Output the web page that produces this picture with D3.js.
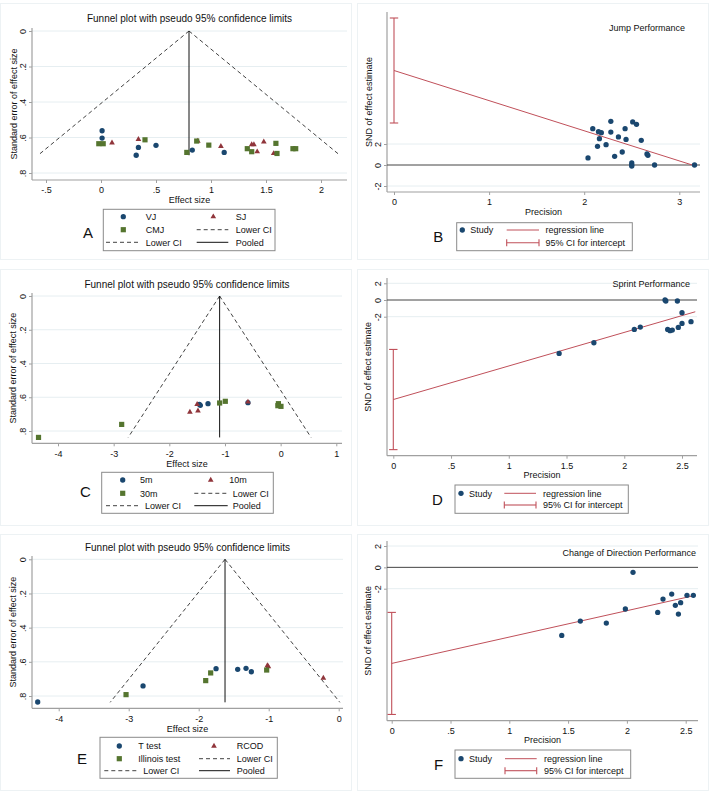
<!DOCTYPE html>
<html lang="en">
<head>
<meta charset="UTF-8">
<title>Funnel plots and Egger plots</title>
<script src="https://d3js.org/d3.v7.min.js"></script>
<style>
  body { margin: 0; background: #fff; }
  svg { display: block; font-family: "Liberation Sans", Arial, sans-serif; }
</style>
</head>
<body>
<script>
// ---------- data ----------
// A: jump performance funnel (effect size, standard error)
const jumpVJ = [[0.01, 0.562], [0.01, 0.603], [0.32, 0.700], [0.34, 0.656], [0.50, 0.644], [0.83, 0.671], [1.12, 0.684]];
const jumpSJ = [[0.10, 0.630], [0.34, 0.610], [0.88, 0.620], [1.09, 0.650], [1.37, 0.640], [1.39, 0.640], [1.42, 0.680], [1.48, 0.624], [1.57, 0.690]];
const jumpCMJ = [[-0.02, 0.635], [0.02, 0.635], [0.40, 0.613], [0.78, 0.684], [0.87, 0.620], [0.98, 0.643], [1.33, 0.663], [1.37, 0.680], [1.59, 0.633], [1.60, 0.690], [1.745, 0.663], [1.77, 0.663]];
const jumpPooled = 0.80;
const jumpMaxSE = 0.70;
const jumpTicks = [-0.5, 0, 0.5, 1, 1.5, 2];

// C: sprint performance funnel
const sprint5m = [[-1.46, 0.642], [-1.443, 0.648], [-1.305, 0.638], [-0.587, 0.632]];
const sprint10m = [[-1.63, 0.688], [-1.50, 0.642], [-1.485, 0.680], [-0.587, 0.628]];
const sprint30m = [[-4.35, 0.838], [-2.856, 0.761], [-1.096, 0.634], [-0.994, 0.624], [-0.04, 0.638], [-0.05, 0.650], [0.006, 0.654]];
const sprintPooled = -1.096;
const sprintMaxSE = 0.838;
const sprintTicks = [-4, -3, -2, -1, 0, 1];

// E: change of direction funnel
const codTtest = [[-4.30, 0.835], [-2.795, 0.741], [-1.752, 0.640], [-1.443, 0.644], [-1.324, 0.638], [-1.248, 0.658]];
const codRCOD = [[-1.019, 0.622], [-1.005, 0.628], [-0.219, 0.695]];
const codIllinois = [[-3.038, 0.792], [-1.90, 0.710], [-1.829, 0.665], [-1.029, 0.648]];
const codPooled = -1.624;
const codMaxSE = 0.837;
const codTicks = [-4, -3, -2, -1, 0];

const seTicks = [0, 0.2, 0.4, 0.6, 0.8];

// B, D, F: Egger plots (precision, SND of effect estimate)
const jumpEgger = [[2.04, 0.67], [2.09, 3.46], [2.14, 1.78], [2.15, 3.17], [2.16, 2.51], [2.18, 3.08], [2.23, 1.94], [2.28, 4.16], [2.28, 3.14], [2.32, 0.83], [2.36, 2.67], [2.40, 1.24], [2.43, 3.46], [2.44, 2.44], [2.50, 0.19], [2.50, 0.0], [2.50, -0.1], [2.51, 4.10], [2.55, 3.87], [2.60, 2.35], [2.66, 1.05], [2.67, 0.92], [2.74, 0.0], [3.16, 0.0]];
const jumpReg = [9.0, -2.87];      // intercept, slope
const jumpRegEnd = 3.16;
const jumpCI = [4.0, 14.0];
const jumpPrecTicks = [0, 1, 2, 3];

const sprintEgger = [[1.436, -6.4], [1.737, -5.12], [2.087, -3.52], [2.139, -3.24], [2.353, 0.0], [2.36, -0.12], [2.46, -0.12], [2.376, -3.52], [2.396, -3.68], [2.416, -3.6], [2.468, -3.28], [2.50, -1.52], [2.50, -2.8], [2.578, -2.6]];
const sprintReg = [-11.92, 4.02];
const sprintRegEnd = 2.615;
const sprintCI = [-17.92, -5.92];

const codEgger = [[1.446, -6.375], [1.604, -5.03], [1.825, -5.22], [1.987, -3.9], [2.052, -0.47], [2.262, -4.22], [2.307, -2.97], [2.381, -2.5], [2.412, -3.56], [2.438, -4.375], [2.457, -3.31], [2.511, -2.625], [2.565, -2.625]];
const codReg = [-9.0, 2.47];
const codRegEnd = 2.565;
const codCI = [-13.78, -4.22];

const precTicks = [0, 0.5, 1, 1.5, 2, 2.5];
const sndTicks = [-2, 0, 2];

// ---------- style ----------
const NAVY = "#1a476f", MAROON = "#90353b", GREEN = "#55752f";
const REG = "#c0505a", AXIS = "#a0a0a0", GRID = "#e6eef1", TXT = "#111";

const svg = d3.select("body").append("svg").attr("width", 709).attr("height", 795);

const fmt = d => String(+d.toFixed(2)).replace(/^(-?)0\./, "$1.");

const shapes = { circle: [d3.symbolCircle, 22], triangle: [d3.symbolTriangle, 14], square: [d3.symbolSquare, 27] };
function mark(g, shape, color, x, y) {
  g.append("path")
    .attr("d", d3.symbol().type(shapes[shape][0]).size(shapes[shape][1]))
    .attr("transform", `translate(${x},${y})`)
    .attr("fill", color);
}

// faint panel frames
[[0.5, 3.5], [0.5, 269.5], [0.5, 534.5], [357.5, 3.5], [357.5, 269.5], [357.5, 534.5]].forEach(([x, y]) => {
  svg.append("rect").attr("x", x).attr("y", y).attr("width", 351).attr("height", 256)
    .attr("fill", "none").attr("stroke", "#edf2f4");
});

function axes(g, x, y, xt, yt, p) {
  const ax = g.append("g").attr("transform", `translate(0,${p.bottom})`)
    .call(d3.axisBottom(x).tickValues(xt).tickSize(3).tickPadding(4).tickFormat(fmt));
  ax.select(".domain").remove();
  ax.selectAll("line").attr("stroke", AXIS);
  ax.selectAll("text").attr("font-size", 9).attr("fill", TXT).attr("font-family", null);

  const ay = g.append("g").attr("transform", `translate(${p.left},0)`)
    .call(d3.axisLeft(y).tickValues(yt).tickSize(3).tickFormat(fmt));
  ay.select(".domain").remove();
  ay.selectAll("line").attr("stroke", AXIS);
  ay.selectAll("text").attr("x", null).attr("dy", null).attr("text-anchor", "middle")
    .attr("transform", "translate(-6,0) rotate(-90)")
    .attr("font-size", 9).attr("fill", TXT).attr("font-family", null);

  g.append("line").attr("x1", p.left).attr("x2", p.right).attr("y1", p.bottom).attr("y2", p.bottom)
    .attr("stroke", AXIS).attr("stroke-width", 1.2);
  g.append("line").attr("x1", p.left).attr("x2", p.left).attr("y1", p.top).attr("y2", p.bottom)
    .attr("stroke", AXIS).attr("stroke-width", 1.2);
}

function text(g, s, x, y, size, anchor, rot) {
  const t = g.append("text").attr("x", x).attr("y", y).attr("font-size", size)
    .attr("fill", TXT).attr("text-anchor", anchor || "start").text(s);
  if (rot) t.attr("transform", `rotate(-90,${x},${y})`);
  return t;
}

function dashed(g, x1, x2, y1, y2, solid) {
  g.append("line").attr("x1", x1).attr("x2", x2).attr("y1", y1).attr("y2", y2)
    .attr("stroke", "#111").attr("stroke-width", solid ? 1 : 0.8)
    .attr("stroke-dasharray", solid ? null : "4,3");
}

// ---------- funnel panels ----------
function funnel(c) {
  const g = svg.append("g");
  const p = c.plot;
  const x = d3.scaleLinear().domain(c.xd).range(c.xr);
  const y = d3.scaleLinear().domain([0, 0.8]).range(c.yr);

  g.selectAll(".grid").data(seTicks).join("line")
    .attr("x1", p.left).attr("x2", p.right)
    .attr("y1", d => y(d)).attr("y2", d => y(d))
    .attr("stroke", GRID);
  axes(g, x, y, c.ticks, seTicks, p);

  text(g, "Funnel plot with pseudo 95% confidence limits", (p.left + p.right) / 2, c.titleY, 10, "middle");
  text(g, "Effect size", (p.left + p.right) / 2, c.xTitleY, 9, "middle");
  text(g, "Standard error of effect size", 16.5, (p.top + p.bottom) / 2, 9, "middle", true);

  // pseudo 95% limits and pooled estimate
  dashed(g, x(c.pooled), x(c.pooled - 1.96 * c.maxSE), y(0), y(c.maxSE));
  dashed(g, x(c.pooled), x(c.pooled + 1.96 * c.maxSE), y(0), y(c.maxSE));
  dashed(g, x(c.pooled), x(c.pooled), y(0), y(c.maxSE), true);

  c.series.forEach(s => s.data.forEach(d => mark(g, s.shape, s.color, x(d[0]), y(d[1]))));

  // legend
  const L = c.legend;
  g.append("rect").attr("x", L.x).attr("y", L.y).attr("width", L.w).attr("height", L.h)
    .attr("fill", "#fff").attr("stroke", "#8a8a8a");
  const s = c.series;
  mark(g, s[0].shape, s[0].color, L.s1, L.r[0]); text(g, s[0].name, L.t1, L.r[0] + 3.2, 9);
  mark(g, s[1].shape, s[1].color, L.s2, L.r[0]); text(g, s[1].name, L.t2, L.r[0] + 3.2, 9);
  mark(g, s[2].shape, s[2].color, L.s1, L.r[1]); text(g, s[2].name, L.t1, L.r[1] + 3.2, 9);
  dashed(g, L.l2[0], L.l2[1], L.r[1], L.r[1]); text(g, "Lower CI", L.t2b, L.r[1] + 3.2, 9);
  dashed(g, L.l1[0], L.l1[1], L.r[2], L.r[2]); text(g, "Lower CI", L.t1b, L.r[2] + 3.2, 9);
  dashed(g, L.l2[0], L.l2[1], L.r[2], L.r[2], true); text(g, "Pooled", L.t2b, L.r[2] + 3.2, 9);

  text(g, c.letter, c.letterPos[0], c.letterPos[1], 15, "middle");
}

funnel({
  xd: [-0.5, 2], xr: [46, 321], yr: [31, 173],
  plot: { left: 32, right: 347, top: 28, bottom: 180 },
  ticks: jumpTicks, pooled: jumpPooled, maxSE: jumpMaxSE,
  titleY: 21.5, xTitleY: 203,
  series: [
    { name: "VJ", data: jumpVJ, shape: "circle", color: NAVY },
    { name: "SJ", data: jumpSJ, shape: "triangle", color: MAROON },
    { name: "CMJ", data: jumpCMJ, shape: "square", color: GREEN }
  ],
  legend: { x: 103.3, y: 209.3, w: 171.7, h: 41.4, r: [216.7, 229.7, 242.3],
    s1: 123.3, t1: 145.7, s2: 213.3, t2: 235.7, t1b: 145.7, t2b: 235.7,
    l1: [106, 139.3], l2: [196.7, 228.3] },
  letter: "A", letterPos: [88, 237.5]
});

funnel({
  xd: [-4, 1], xr: [58, 336.3], yr: [296, 431],
  plot: { left: 32, right: 342, top: 293, bottom: 443.3 },
  ticks: sprintTicks, pooled: sprintPooled, maxSE: sprintMaxSE,
  titleY: 287.5, xTitleY: 467,
  series: [
    { name: "5m", data: sprint5m, shape: "circle", color: NAVY },
    { name: "10m", data: sprint10m, shape: "triangle", color: MAROON },
    { name: "30m", data: sprint30m, shape: "square", color: GREEN }
  ],
  legend: { x: 101.7, y: 472.3, w: 171.6, h: 41, r: [480, 493.3, 505.7],
    s1: 122.7, t1: 140, s2: 210.7, t2: 229.3, t1b: 145, t2b: 232.7,
    l1: [106, 140], l2: [194.3, 227.7] },
  letter: "C", letterPos: [85.5, 497.3]
});

funnel({
  xd: [-4, 0], xr: [58.7, 338.7], yr: [559.3, 696],
  plot: { left: 32, right: 343, top: 556, bottom: 708.3 },
  ticks: codTicks, pooled: codPooled, maxSE: codMaxSE,
  titleY: 550.5, xTitleY: 732,
  series: [
    { name: "T test", data: codTtest, shape: "circle", color: NAVY },
    { name: "RCOD", data: codRCOD, shape: "triangle", color: MAROON },
    { name: "Illinois test", data: codIllinois, shape: "square", color: GREEN }
  ],
  legend: { x: 100, y: 737.3, w: 177.3, h: 41, r: [746, 758.7, 770.7],
    s1: 119.3, t1: 138.3, s2: 214, t2: 236.7, t1b: 143.3, t2b: 236.7,
    l1: [104.3, 136.7], l2: [199, 230] },
  letter: "E", letterPos: [82, 764.3]
});

// ---------- Egger panels ----------
function egger(c) {
  const g = svg.append("g");
  const p = c.plot;
  const x = d3.scaleLinear().domain(c.xd).range(c.xr);
  const y = d3.scaleLinear().domain([-2, 2]).range(c.yr);

  g.selectAll(".grid").data([-2, 2]).join("line")
    .attr("x1", p.left).attr("x2", p.right)
    .attr("y1", d => y(d)).attr("y2", d => y(d))
    .attr("stroke", GRID);
  axes(g, x, y, c.ticks, sndTicks, p);
  g.append("line").attr("x1", p.left).attr("x2", p.right).attr("y1", y(0)).attr("y2", y(0))
    .attr("stroke", "#444").attr("stroke-width", 1);

  text(g, "Precision", (p.left + p.right) / 2, c.xTitleY, 9, "middle");
  text(g, "SND of effect estimate", 371.5, (p.top + p.bottom) / 2, 9, "middle", true);
  text(g, c.label, c.labelPos[0], c.labelPos[1], 9, "end");

  // 95% CI for intercept
  const ci = g.append("g").attr("stroke", REG).attr("stroke-width", 1.1);
  ci.append("line").attr("x1", x(0)).attr("x2", x(0)).attr("y1", y(c.ci[0])).attr("y2", y(c.ci[1]));
  c.ci.forEach(v => ci.append("line").attr("x1", x(0) - 4.2).attr("x2", x(0) + 4.2).attr("y1", y(v)).attr("y2", y(v)));

  // regression line
  const line = d3.line().x(d => x(d)).y(d => y(c.reg[0] + c.reg[1] * d));
  g.append("path").attr("d", line([0, c.regEnd])).attr("fill", "none").attr("stroke", REG).attr("stroke-width", 1);

  c.data.forEach(d => mark(g, "circle", NAVY, x(d[0]), y(d[1])));

  const L = c.legend;
  g.append("rect").attr("x", L.x).attr("y", L.y).attr("width", L.w).attr("height", L.h)
    .attr("fill", "#fff").attr("stroke", "#8a8a8a");
  mark(g, "circle", NAVY, L.dot, L.r[0]); text(g, "Study", L.dot + 8, L.r[0] + 3.2, 9);
  g.append("line").attr("x1", L.l[0]).attr("x2", L.l[1]).attr("y1", L.r[0]).attr("y2", L.r[0])
    .attr("stroke", REG);
  text(g, "regression line", L.t, L.r[0] + 3.2, 9);
  const k = g.append("g").attr("stroke", REG).attr("stroke-width", 1.1);
  k.append("line").attr("x1", L.l[0]).attr("x2", L.l[1]).attr("y1", L.r[1]).attr("y2", L.r[1]);
  L.l.forEach(v => k.append("line").attr("x1", v).attr("x2", v).attr("y1", L.r[1] - 3.5).attr("y2", L.r[1] + 3.5));
  text(g, "95% CI for intercept", L.t, L.r[1] + 3.2, 9);

  text(g, c.letter, c.letterPos[0], c.letterPos[1], 15, "middle");
}

egger({
  xd: [0, 3], xr: [394, 679.3], yr: [186, 144],
  plot: { left: 387, right: 700, top: 12, bottom: 192 },
  ticks: jumpPrecTicks, data: jumpEgger, reg: jumpReg, regEnd: jumpRegEnd, ci: jumpCI,
  xTitleY: 215, label: "Jump Performance", labelPos: [685, 31],
  legend: { x: 456.7, y: 222.7, w: 175.6, h: 28, r: [230, 242.7], dot: 462.3, l: [506.7, 539], t: 545.5 },
  letter: "B", letterPos: [438.3, 241.7]
});

egger({
  xd: [0, 2.5], xr: [393.3, 682], yr: [316.7, 283.3],
  plot: { left: 387, right: 697, top: 278, bottom: 455.7 },
  ticks: precTicks, data: sprintEgger, reg: sprintReg, regEnd: sprintRegEnd, ci: sprintCI,
  xTitleY: 478.3, label: "Sprint Performance", labelPos: [690, 287],
  legend: { x: 455, y: 485, w: 173.3, h: 28.3, r: [493.3, 505], dot: 461, l: [504.3, 536], t: 543 },
  letter: "D", letterPos: [437.5, 505]
});

egger({
  xd: [0, 2.5], xr: [391.7, 685.7], yr: [588.7, 546],
  plot: { left: 387, right: 698, top: 541, bottom: 720.7 },
  ticks: precTicks, data: codEgger, reg: codReg, regEnd: codRegEnd, ci: codCI,
  xTitleY: 743.3, label: "Change of Direction Performance", labelPos: [696, 556],
  legend: { x: 455, y: 750, w: 175.7, h: 28.3, r: [758.7, 770.7], dot: 461, l: [505, 536.7], t: 544 },
  letter: "F", letterPos: [438.7, 770]
});
</script>
</body>
</html>
